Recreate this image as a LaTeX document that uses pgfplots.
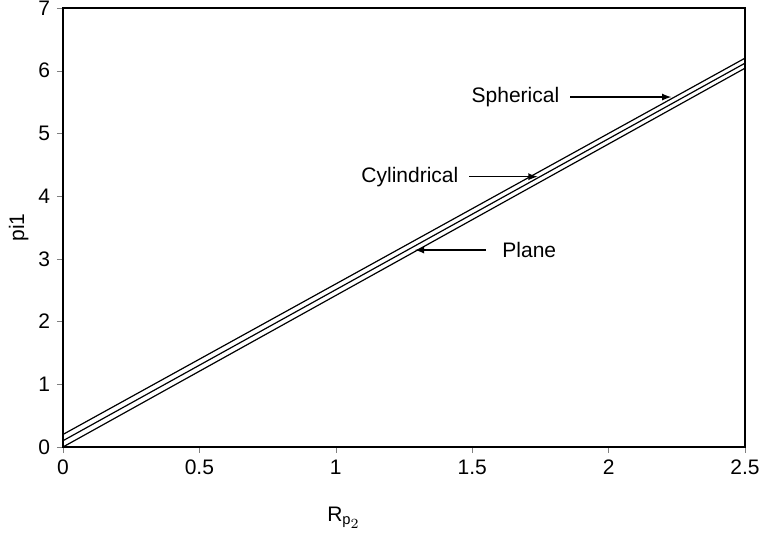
\documentclass[border=0pt]{standalone}
\usepackage{pgfplots}
\pgfplotsset{compat=1.18}
\usepackage{fontspec}
\setmainfont{Liberation Sans}
\begin{document}
\begin{tikzpicture}
\begin{axis}[
  scale only axis, width=341pt, height=219.5pt,
  xmin=0, xmax=2.5, ymin=0, ymax=7,
  xtick={0,0.5,1,1.5,2,2.5}, ytick={0,1,...,7},
  xticklabels={0,0.5,1,1.5,2,2.5},
  tick align=outside, xtick pos=bottom, ytick pos=left,
  major tick length=3pt,
  /pgf/number format/assume math mode=true,
  ticklabel style={font=\fontsize{10.5}{12}\selectfont},
  ylabel={pi1}, ylabel style={font=\fontsize{10.5}{12}\selectfont, yshift=-2pt},
  axis line style={line width=0.8pt},
  clip=false,
]
\addplot[black, line width=0.6pt, no marks] coordinates {(0,0) (2.5,6.04)};
\addplot[black, line width=0.6pt, no marks] coordinates {(0,0.1) (2.5,6.12)};
\addplot[black, line width=0.6pt, no marks] coordinates {(0,0.2) (2.5,6.2)};
\draw[-latex, line width=0.6pt] (axis cs:1.86,5.58) -- (axis cs:2.23,5.58);
\node[anchor=east, font=\fontsize{10.5}{12}\selectfont] at (axis cs:1.845,5.58) {Spherical};
\draw[-latex, line width=0.6pt] (axis cs:1.49,4.31) -- (axis cs:1.74,4.31);
\node[anchor=east, font=\fontsize{10.5}{12}\selectfont] at (axis cs:1.475,4.31) {Cylindrical};
\draw[-latex, line width=0.6pt] (axis cs:1.55,3.14) -- (axis cs:1.29,3.14);
\node[anchor=west, font=\fontsize{10.5}{12}\selectfont] at (axis cs:1.585,3.14) {Plane};
\node[font=\fontsize{10.5}{12}\selectfont] at (axis cs:1.03,-1.13) {R$_{\mathrm{p}_{\scriptstyle 2}}$};
\end{axis}
\pgfresetboundingbox
\path ([xshift=-31.5pt,yshift=-45pt]current axis.south west) rectangle ([xshift=7pt,yshift=4pt]current axis.north east);
\end{tikzpicture}
\end{document}
